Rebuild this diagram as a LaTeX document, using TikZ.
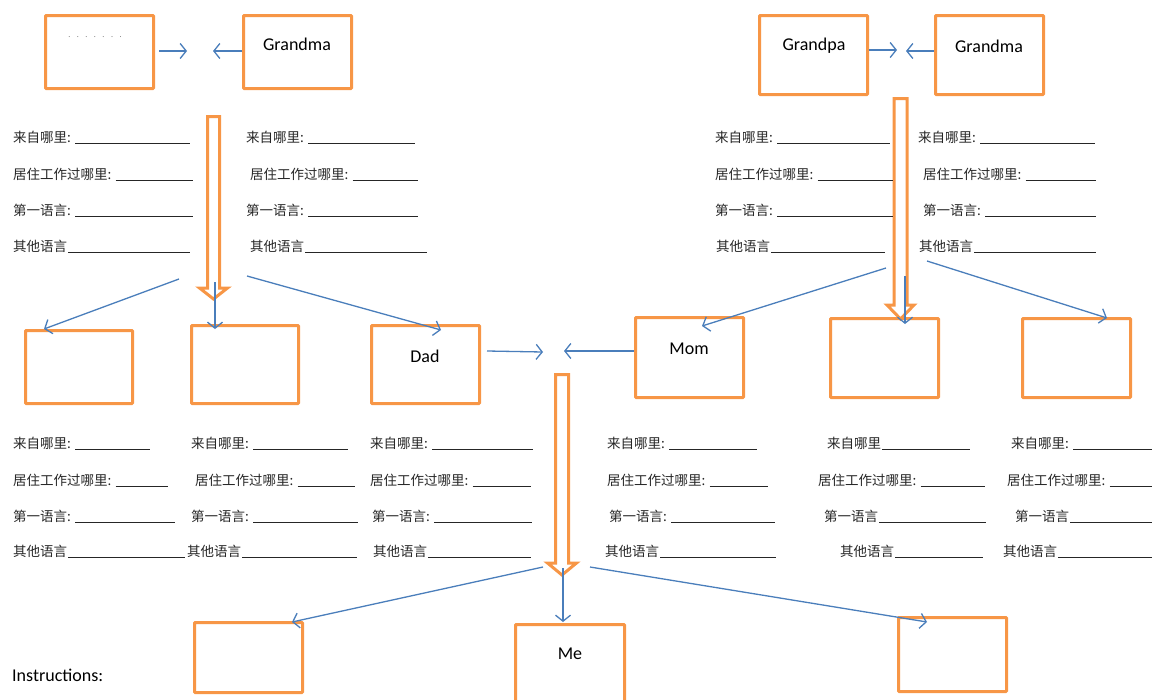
\documentclass[tikz,border=0pt]{standalone}
\usepackage{fontspec}
\setmainfont{Carlito}
\newfontfamily\cjk{Noto Sans CJK SC}
\usetikzlibrary{arrows.meta}
\definecolor{orng}{HTML}{F79646}
\definecolor{blu}{HTML}{4A7EBB}
\newcommand{\cln}{\makebox[0.5em][l]{:}}
\newcommand{\hsp}{\hspace{0.5em}}
\tikzset{
 box/.style={draw=orng, line width=3pt, inner sep=0pt, fill=white, rounded corners=0.8pt},
 lbl/.style={font=\fontsize{18}{20}\selectfont, inner sep=0pt},
 fldtxt/.style={font=\cjk\fontsize{13.5}{15}\selectfont, inner sep=0pt, anchor=west, text=black!85},
 fldline/.style={line width=0.8pt, black!85},
 conn/.style={draw=blu, line width=1.3pt, -{Straight Barb[length=6pt,width=15pt]}},
 blockarrow/.style={draw=orng, line width=3pt, fill=white, line join=miter},
}
\newcommand{\fld}[5]{%
 \node[fldtxt] (#1) at (#2,#3) {#4};
 \coordinate (#1s) at ([xshift=1pt]#1.east);
 \coordinate (#1u) at (#5,#3+6);
 \draw[fldline] (#1s |- #1u) -- (#1u);
}
\newcommand{\blockarr}[6]{% cx top headstart tip shafthalf headhalf
 \draw[blockarrow] (#1-#5,#2) -- (#1+#5,#2) -- (#1+#5,#3) -- (#1+#6,#3) -- (#1,#4) -- (#1-#6,#3) -- (#1-#5,#3) -- cycle;
}
\begin{document}
\begin{tikzpicture}[x=1pt,y=-1pt]
\useasboundingbox (0,0) rectangle (1153,699);
% boxes
\node[box, minimum width=108pt, minimum height=73pt] (A) at (99.5,52) {};
\node[box, minimum width=108pt, minimum height=73pt] (gmL) at (297.5,52) {};
\node[box, minimum width=108pt, minimum height=79pt] (gp) at (813.5,55) {};
\node[box, minimum width=108pt, minimum height=79pt] (gmR) at (989.5,55) {};
\node[box, minimum width=107pt, minimum height=73pt] (b1) at (79,367) {};
\node[box, minimum width=107pt, minimum height=78pt] (b2) at (245,364.5) {};
\node[box, minimum width=108pt, minimum height=78pt] (dad) at (425.5,364.5) {};
\node[box, minimum width=108pt, minimum height=80pt] (mom) at (689.5,357.5) {};
\node[box, minimum width=108pt, minimum height=79pt] (b5) at (884.5,358) {};
\node[box, minimum width=108pt, minimum height=79pt] (b6) at (1076.5,358) {};
\node[box, minimum width=108pt, minimum height=70pt] (c1) at (248.5,657.5) {};
\node[box, minimum width=109pt, minimum height=104pt] (me) at (570,676.5) {};
\node[box, minimum width=108pt, minimum height=74pt] (c3) at (952.5,654.5) {};
% labels
\node[font=\fontsize{8}{8}\selectfont, text=black!60, inner sep=0pt] (dots) at (95,37) {.\hspace{6.5pt}.\hspace{6.5pt}.\hspace{6.5pt}.\hspace{6.5pt}.\hspace{6.5pt}.\hspace{6.5pt}.};
\node[lbl] (tgmL) at (297,44) {Grandma};
\node[lbl] (tgp) at (814,46) {Grandpa};
\node[lbl] (tgmR) at (989,46) {Grandma};
\node[lbl] (tdad) at (425,356) {Dad};
\node[lbl] (tmom) at (689,349) {Mom};
\node[lbl] (tme) at (570,654) {Me};
\node[lbl, anchor=west] (instr) at (12,675) {Instructions:};
% block arrows
\blockarr{213.5}{116.5}{288}{299}{6}{14}
\blockarr{900.5}{98.5}{305}{319}{6.5}{13.5}
\blockarr{562}{374.5}{563}{575}{6.5}{14.5}
% fields top
\fld{f1}{13}{137}{来自哪里\cln\hsp}{190}
\fld{f2}{13}{174}{居住工作过哪里\cln}{193}
\fld{f3}{13}{210}{第一语言\cln}{193}
\fld{f4}{13}{246}{其他语言}{190}
\fld{f5}{246}{137}{来自哪里\cln\hsp}{415}
\fld{f6}{250}{174}{居住工作过哪里\cln}{418}
\fld{f7}{246}{210}{第一语言\cln}{418}
\fld{f8}{250}{246}{其他语言}{427}
\fld{f9}{715}{137}{来自哪里\cln\hsp}{890}
\fld{f10}{715}{174}{居住工作过哪里\cln}{893}
\fld{f11}{715}{210}{第一语言\cln}{893}
\fld{f12}{716}{246}{其他语言}{885}
\fld{f13}{918}{137}{来自哪里\cln\hsp}{1095}
\fld{f14}{923}{174}{居住工作过哪里\cln}{1096}
\fld{f15}{923}{210}{第一语言\cln}{1096}
\fld{f16}{919}{246}{其他语言}{1096}
% fields middle
\fld{g1}{13}{443}{来自哪里\cln\hsp}{150}
\fld{g2}{13}{480}{居住工作过哪里\cln}{168}
\fld{g3}{13}{516}{第一语言\cln}{175}
\fld{g4}{13}{551}{其他语言}{185}
\fld{g5}{191}{443}{来自哪里\cln\hsp}{348}
\fld{g6}{195}{480}{居住工作过哪里\cln}{355}
\fld{g7}{191}{516}{第一语言\cln}{358}
\fld{g8}{187}{551}{其他语言}{357}
\fld{g9}{370}{443}{来自哪里\cln\hsp}{533}
\fld{g10}{370}{480}{居住工作过哪里\cln}{531}
\fld{g11}{372}{516}{第一语言\cln}{532}
\fld{g12}{373}{551}{其他语言}{531}
\fld{g13}{607}{443}{来自哪里\cln\hsp}{757}
\fld{g14}{607}{480}{居住工作过哪里\cln}{768}
\fld{g15}{609}{516}{第一语言\cln}{775}
\fld{g16}{605}{551}{其他语言}{776}
\fld{g17}{827}{443}{来自哪里}{970}
\fld{g18}{818}{480}{居住工作过哪里\cln}{985}
\fld{g19}{824}{516}{第一语言}{986}
\fld{g20}{840}{551}{其他语言}{983}
\fld{g21}{1011}{443}{来自哪里\cln\hsp}{1152}
\fld{g22}{1007}{480}{居住工作过哪里\cln}{1152}
\fld{g23}{1015}{516}{第一语言\hsp}{1152}
\fld{g24}{1003}{551}{其他语言}{1152}
% connector free ends
\coordinate (pL) at (187,51);
\coordinate (pR) at (213,51);
\coordinate (q1) at (897,50);
\coordinate (q2) at (906,51);
\coordinate (s1) at (179,279);
\coordinate (s2) at (215,282);
\coordinate (s3) at (247,276);
\coordinate (e1) at (44,329);
\coordinate (e2) at (215,329);
\coordinate (e3) at (441,330);
\coordinate (t1) at (886,268);
\coordinate (t2) at (905,276);
\coordinate (t3) at (927,261);
\coordinate (k1) at (702,326);
\coordinate (k2) at (905,324);
\coordinate (k3) at (1107,318);
\coordinate (dA) at (487,351);
\coordinate (dB) at (543,352);
\coordinate (mB) at (564,351);
\coordinate (u1) at (543,567);
\coordinate (u2) at (563,568);
\coordinate (u3) at (590,567);
\coordinate (v1) at (292,622);
\coordinate (v2) at (563,622);
\coordinate (v3) at (927,622);
% connectors
\draw[conn] ([xshift=4pt,yshift=1pt]A.east) -- (pL);
\draw[conn] ([yshift=1pt]gmL.west) -- (pR);
\draw[conn] ([yshift=5pt]gp.east) -- (q1);
\draw[conn] ([yshift=4pt]gmR.west) -- (q2);
\draw[conn] (s1) -- (e1);
\draw[conn] (s2) -- (e2);
\draw[conn] (s3) -- (e3);
\draw[conn] (t1) -- (k1);
\draw[conn] (t2) -- (k2);
\draw[conn] (t3) -- (k3);
\draw[conn] (dA) -- (dB);
\draw[conn] ([yshift=6.5pt]mom.west) -- (mB);
\draw[conn] (u1) -- (v1);
\draw[conn] (u2) -- (v2);
\draw[conn] (u3) -- (v3);
\end{tikzpicture}
\end{document}
